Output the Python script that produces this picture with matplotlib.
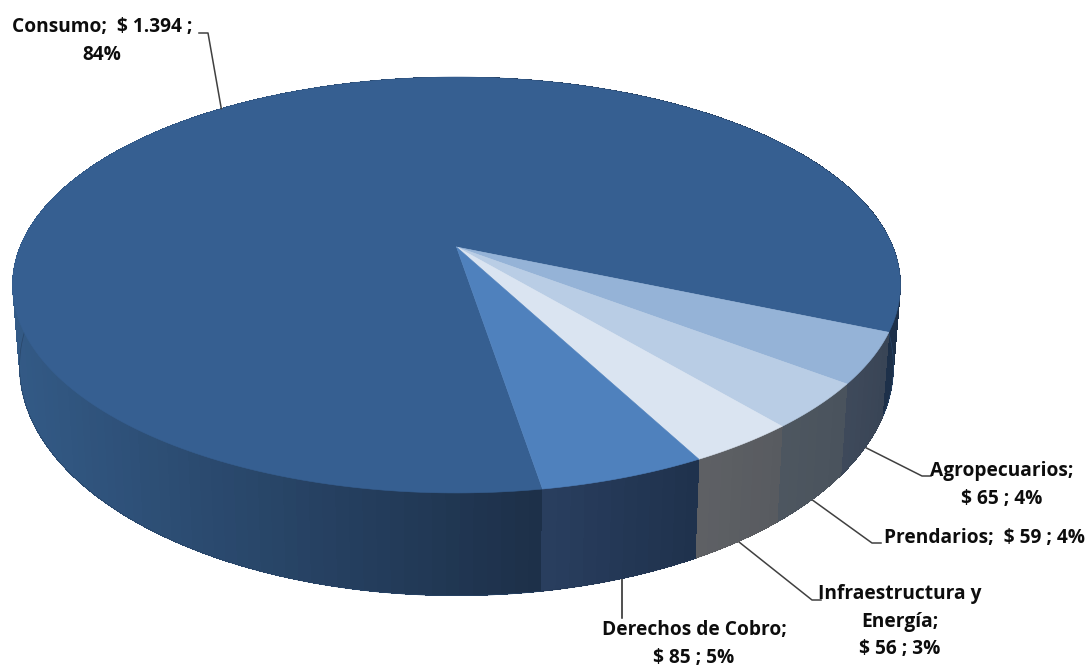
import numpy as np
import matplotlib
matplotlib.use("Agg")
import matplotlib.pyplot as plt
from matplotlib.collections import PolyCollection

# slices, clockwise on screen starting from Consumo
categories = ["Consumo", "Agropecuarios", "Prendarios", "Infraestructura y Energía", "Derechos de Cobro"]
values = [1394, 65, 59, 56, 85]
label_texts = ["Consumo;  $ 1.394 ;\n84%", "Agropecuarios;\n$ 65 ; 4%", "Prendarios;  $ 59 ; 4%",
               "Infraestructura y\nEnergía;\n$ 56 ; 3%", "Derechos de Cobro;\n$ 85 ; 5%"]

top_colors = ["#365F91", "#95B3D7", "#B9CDE5", "#DAE4F1", "#4F81BD"]
# side wall colours: (left end, right end) on screen
side_colors = [("#335A86", "#1D3049"), ("#3F4A5B", "#394556"), ("#4E5760", "#4A535D"),
               ("#5F6165", "#585B60"), ("#2A3F60", "#1F324D")]
start_angle = 80.7

# perspective of the pie disc, in pixels
cx = 456.5
p = -0.1827


def top_xy(t):
    u, v = np.cos(t), np.sin(t)
    d = 1 + p * v
    return cx + 436.5 * u / d, (155.9 * v + 247) / d


def bottom_xy(t):
    u, v = np.cos(t), np.sin(t)
    d = 1 + p * v
    return cx + 429.6 * u / d, (162.4 * v + 324.4) / d


def mix(c1, c2, f):
    a = np.array(matplotlib.colors.to_rgb(c1))
    b = np.array(matplotlib.colors.to_rgb(c2))
    return a + (b - a) * f


fig = plt.figure(figsize=(10.87, 6.68), dpi=100)
ax = fig.add_axes([0, 0, 1, 1])
ax.set_xlim(0, 1087)
ax.set_ylim(668, 0)
ax.axis("off")

sweeps = np.array(values) / sum(values) * 2 * np.pi
edges = np.radians(start_angle) + np.concatenate([[0], np.cumsum(sweeps)])

# side walls first, the top faces paint over the hidden part
for i in range(len(values)):
    # strips about 1.5 degrees wide, wider strips hide the seams
    n = max(int(np.degrees(sweeps[i]) / 1.5), 4)
    ts = np.linspace(edges[i], edges[i + 1], n + 1)
    xt, yt = top_xy(ts)
    xb, yb = bottom_xy(ts)
    x_lo, x_hi = (12, 541) if i == 0 else (xt.min(), xt.max())
    # solid underlay so no background shows between strips
    ax.fill(np.r_[xt, xb[::-1]], np.r_[yt, yb[::-1]], color=mix(*side_colors[i], 0.5), lw=0, zorder=2)
    polys, cols = [], []
    for j in range(n):
        polys.append([(xt[j], yt[j]), (xt[j + 1], yt[j + 1]), (xb[j + 1], yb[j + 1]), (xb[j], yb[j])])
        f = np.clip((xt[j] - x_lo) / (x_hi - x_lo), 0, 1)
        cols.append(mix(side_colors[i][0], side_colors[i][1], f))
    ax.add_collection(PolyCollection(polys, facecolors=cols, edgecolors="none", antialiaseds=False, zorder=2))
    # smooth outline along the outer edge
    ax.plot(xb, yb, color=mix(*side_colors[i], 0.5), lw=0.5, zorder=2)

for i in range(len(values)):
    ts = np.linspace(edges[i], edges[i + 1], 300)
    xt, yt = top_xy(ts)
    ax.fill(np.r_[cx, xt], np.r_[247, yt], color=top_colors[i], lw=0.4, zorder=3)

# leader lines and labels
font = dict(family="Open Sans", fontweight="bold", fontsize=13.8, color="#0d0d0d", linespacing=1.5, zorder=5)
mids = (edges[:-1] + edges[1:]) / 2

x0, y0 = top_xy(mids[0])
ax.plot([x0, 208, 199], [y0, 33, 33], color="#404040", lw=1.1, zorder=4)
ax.text(102, 41, label_texts[0], ha="center", va="center", **font)

x0, y0 = bottom_xy(mids[1])
ax.plot([x0, 922, 931], [y0, 476, 476], color="#404040", lw=1.1, zorder=1)
ax.text(1002, 485, label_texts[1], ha="center", va="center", **font)

x0, y0 = bottom_xy(mids[2])
ax.plot([x0, 872, 881], [y0, 543, 543], color="#404040", lw=1.1, zorder=1)
ax.text(984, 538, label_texts[2], ha="center", va="center", **font)

x0, y0 = bottom_xy(mids[3])
ax.plot([x0, 812, 821], [y0, 600, 600], color="#404040", lw=1.1, zorder=1)
ax.text(900, 622, label_texts[3], ha="center", va="center", **font)

x0, y0 = bottom_xy(mids[4])
ax.plot([x0, x0], [y0, 618], color="#202020", lw=1.1, zorder=1)
ax.text(694, 644, label_texts[4], ha="center", va="center", **font)

fig.savefig("out.png", dpi=100)
